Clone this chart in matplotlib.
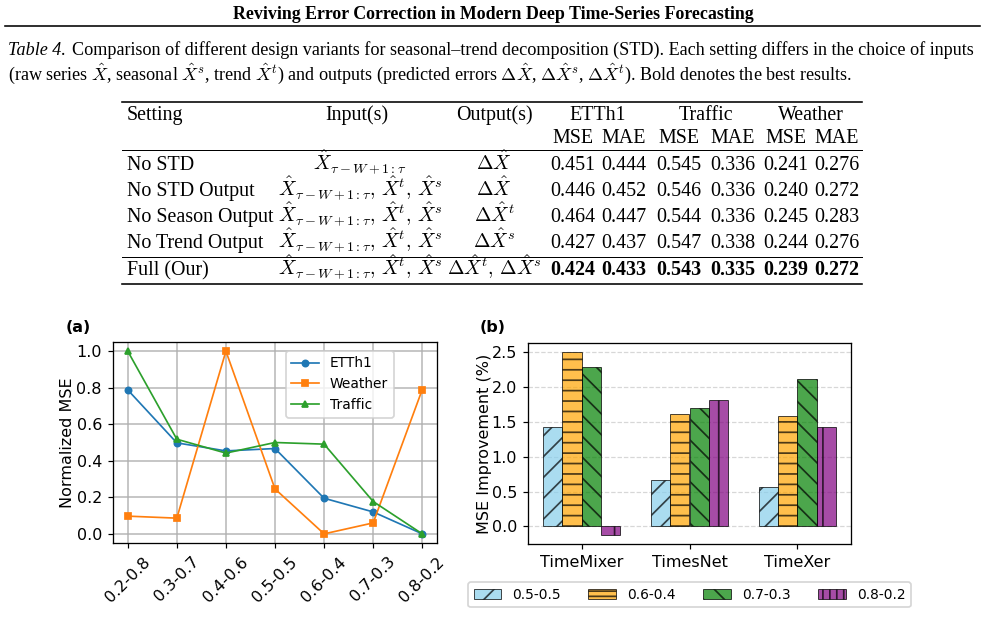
import matplotlib
matplotlib.use('Agg')
import matplotlib.pyplot as plt
import numpy as np
from matplotlib.lines import Line2D
from matplotlib.patches import Patch

DPI = 125
W, H = 985, 636
plt.rcParams['mathtext.fontset'] = 'cm'
plt.rcParams['font.family'] = 'DejaVu Sans'
PT = 72.0 / DPI  # points per pixel

def fx(x):
    return x / W

def fy(y):
    return 1 - y / H

SERIF = 'Liberation Serif'

# ---------------- text / table data ----------------
title = "Reviving Error Correction in Modern Deep Time-Series Forecasting"
caption_label = "Table 4."
caption_line1 = ("Comparison of different design variants for seasonal\u2013trend decomposition (STD). "
                 "Each setting differs in the choice of inputs")
caption_line2 = (r"(raw series $\hat{X}$, seasonal $\hat{X}^s$, trend $\hat{X}^t$) and outputs "
                 r"(predicted errors $\Delta\hat{X}$, $\Delta\hat{X}^s$, $\Delta\hat{X}^t$). Bold denotes the best results.")

settings = ["No STD", "No STD Output", "No Season Output", "No Trend Output", "Full (Our)"]
inputs = [r"$\hat{X}_{\tau-W+1:\tau}$",
          r"$\hat{X}_{\tau-W+1:\tau},\,\hat{X}^t,\,\hat{X}^s$",
          r"$\hat{X}_{\tau-W+1:\tau},\,\hat{X}^t,\,\hat{X}^s$",
          r"$\hat{X}_{\tau-W+1:\tau},\,\hat{X}^t,\,\hat{X}^s$",
          r"$\hat{X}_{\tau-W+1:\tau},\,\hat{X}^t,\,\hat{X}^s$"]
outputs = [r"$\Delta\hat{X}$", r"$\Delta\hat{X}$", r"$\Delta\hat{X}^t$",
           r"$\Delta\hat{X}^s$", r"$\Delta\hat{X}^t,\,\Delta\hat{X}^s$"]
datasets = ["ETTh1", "Traffic", "Weather"]
metrics = ["MSE", "MAE"]
etth1_mse = [0.451, 0.446, 0.464, 0.427, 0.424]
etth1_mae = [0.444, 0.452, 0.447, 0.437, 0.433]
traffic_mse = [0.545, 0.546, 0.544, 0.547, 0.543]
traffic_mae = [0.336, 0.336, 0.336, 0.338, 0.335]
weather_mse = [0.241, 0.240, 0.245, 0.244, 0.239]
weather_mae = [0.276, 0.272, 0.283, 0.276, 0.272]

# ---------------- plot (a) data ----------------
ratios = ["0.2-0.8", "0.3-0.7", "0.4-0.6", "0.5-0.5", "0.6-0.4", "0.7-0.3", "0.8-0.2"]
etth1_norm = [0.788, 0.498, 0.454, 0.467, 0.195, 0.120, 0.0]
weather_norm = [0.097, 0.086, 1.0, 0.246, 0.0, 0.060, 0.790]
traffic_norm = [1.0, 0.518, 0.442, 0.500, 0.491, 0.177, 0.0]

# ---------------- plot (b) data ----------------
models = ["TimeMixer", "TimesNet", "TimeXer"]
split_labels = ["0.5-0.5", "0.6-0.4", "0.7-0.3", "0.8-0.2"]
imp_05 = [1.43, 0.66, 0.57]
imp_06 = [2.50, 1.62, 1.59]
imp_07 = [2.29, 1.70, 2.12]
imp_08 = [-0.12, 1.81, 1.43]

fig = plt.figure(figsize=(W / DPI, H / DPI), dpi=DPI)
fig.patch.set_facecolor('white')

# ---------------- header ----------------
fig.text(fx(493), fy(19), title, fontsize=17.9 * PT, fontweight='bold', family=SERIF,
         ha='center', va='baseline')
fig.add_artist(Line2D([fx(5), fx(980)], [fy(25.5), fy(25.5)], color='black', lw=1.6 * PT))

cap_fs = 18.2 * PT
t1 = fig.text(fx(8), fy(55), caption_label, fontsize=cap_fs, style='italic', family=SERIF,
              ha='left', va='baseline')
fig.canvas.draw()
r = fig.canvas.get_renderer()
bb = t1.get_window_extent(r)
fig.text(bb.x1 / W + fx(6), fy(55), caption_line1, fontsize=cap_fs, family=SERIF,
         ha='left', va='baseline')
fig.text(fx(8), fy(80), caption_line2, fontsize=cap_fs, family=SERIF, ha='left', va='baseline')

# ---------------- table ----------------
tfs = 20 * PT
mfs = 20 * PT
x_left, x_right = 122, 862
def hrule(y, lw):
    fig.add_artist(Line2D([fx(x_left), fx(x_right)], [fy(y), fy(y)], color='black', lw=lw * PT))

hrule(101.5, 1.6)
hrule(149.5, 1.0)
hrule(257, 1.0)
hrule(284, 1.6)

x_setting = 127
x_input = 360
x_output = 494
x_cols = [573, 624, 679, 733, 786, 837]
x_ds = [598, 706, 811]

y_h1, y_h2 = 120, 143
fig.text(fx(x_setting), fy(y_h1), "Setting", fontsize=tfs, family=SERIF, ha='left', va='baseline')
fig.text(fx(357), fy(y_h1), "Input(s)", fontsize=tfs, family=SERIF, ha='center', va='baseline')
fig.text(fx(x_output), fy(y_h1), "Output(s)", fontsize=tfs, family=SERIF, ha='center', va='baseline')
for xd, d in zip(x_ds, datasets):
    fig.text(fx(xd), fy(y_h1), d, fontsize=tfs, family=SERIF, ha='center', va='baseline')
for i, xc in enumerate(x_cols):
    fig.text(fx(xc), fy(y_h2), metrics[i % 2], fontsize=tfs, family=SERIF, ha='center', va='baseline')

row_y = [170, 196, 222, 248, 275]
columns = [etth1_mse, etth1_mae, traffic_mse, traffic_mae, weather_mse, weather_mae]
for i, yb in enumerate(row_y):
    bold = (i == len(row_y) - 1)
    fig.text(fx(x_setting), fy(yb), settings[i], fontsize=tfs, family=SERIF, ha='left', va='baseline')
    fig.text(fx(x_input), fy(yb), inputs[i], fontsize=mfs, family=SERIF, ha='center', va='baseline')
    fig.text(fx(x_output), fy(yb), outputs[i], fontsize=mfs, family=SERIF, ha='center', va='baseline')
    for xc, col in zip(x_cols, columns):
        fig.text(fx(xc), fy(yb), f"{col[i]:.3f}", fontsize=tfs, family=SERIF,
                 fontweight='bold' if bold else 'normal', ha='center', va='baseline')

# ---------------- subplot (a) ----------------
tick_fs = 16 * PT
leg_fs = 13.8 * PT
axa = fig.add_axes([fx(113), fy(543), (437 - 113) / W, (543 - 342) / H])
xa = np.arange(len(ratios))
lw = 1.7 * PT
ms = 6.2 * PT
axa.plot(xa, etth1_norm, marker='o', color='C0', lw=lw, ms=ms, label='ETTh1')
axa.plot(xa, weather_norm, marker='s', color='C1', lw=lw, ms=ms, label='Weather')
axa.plot(xa, traffic_norm, marker='^', color='C2', lw=lw, ms=ms, label='Traffic')
axa.set_xticks(xa)
axa.set_xticklabels(ratios, rotation=45, fontsize=tick_fs)
axa.set_yticks([0.0, 0.2, 0.4, 0.6, 0.8, 1.0])
axa.tick_params(axis='y', labelsize=tick_fs)
axa.tick_params(width=1.2 * PT, length=5 * PT)
axa.set_ylabel("Normalized MSE", fontsize=tick_fs, labelpad=1.0)
axa.grid(True, color='#b0b0b0', lw=2.0 * PT, alpha=0.7)
for s in axa.spines.values():
    s.set_linewidth(1.3 * PT)
axa.legend(loc='upper right', bbox_to_anchor=(0.888, 0.99), fontsize=leg_fs,
           handlelength=2.0, framealpha=0.8)
fig.text(fx(66), fy(332), "(a)", fontsize=16 * PT, fontweight='bold', ha='left', va='baseline')

# ---------------- subplot (b) ----------------
axb = fig.add_axes([fx(528), fy(544), (851 - 528) / W, (544 - 343) / H])
xb = np.arange(len(models))
bw = 0.18
series = [imp_05, imp_06, imp_07, imp_08]
colors = ['skyblue', 'orange', 'green', 'purple']
hatches = ['//', '--', '\\\\', '|']
leg_hatches = ['//', '----', '\\\\', '|||']
for k, (vals, c, h) in enumerate(zip(series, colors, hatches)):
    axb.bar(xb + (k - 1.5) * bw, vals, bw, color=c, alpha=0.7, hatch=h,
            edgecolor='black', linewidth=1.0 * PT, zorder=2)
axb.set_xticks(xb)
axb.set_xticklabels(models, fontsize=tick_fs)
axb.set_yticks([0.0, 0.5, 1.0, 1.5, 2.0, 2.5])
axb.tick_params(axis='y', labelsize=tick_fs)
axb.tick_params(width=1.2 * PT, length=5 * PT)
axb.set_ylabel("MSE Improvement (%)", fontsize=tick_fs, labelpad=-0.5)
axb.yaxis.grid(True, linestyle='--', color='#b0b0b0', alpha=0.5, lw=1.2 * PT, zorder=0)
axb.set_axisbelow(True)
for s in axb.spines.values():
    s.set_linewidth(1.3 * PT)
handles = [Patch(facecolor=c, alpha=0.7, hatch=h, edgecolor='black', linewidth=1.0 * PT, label=l)
           for c, h, l in zip(colors, leg_hatches, split_labels)]
axb.legend(handles=handles, loc='upper center', bbox_to_anchor=(0.5, -0.157), ncol=4,
           fontsize=leg_fs, handlelength=2.0, columnspacing=2.0, framealpha=0.8)
fig.text(fx(480), fy(332), "(b)", fontsize=16 * PT, fontweight='bold', ha='left', va='baseline')

fig.savefig('out.png', dpi=DPI)
